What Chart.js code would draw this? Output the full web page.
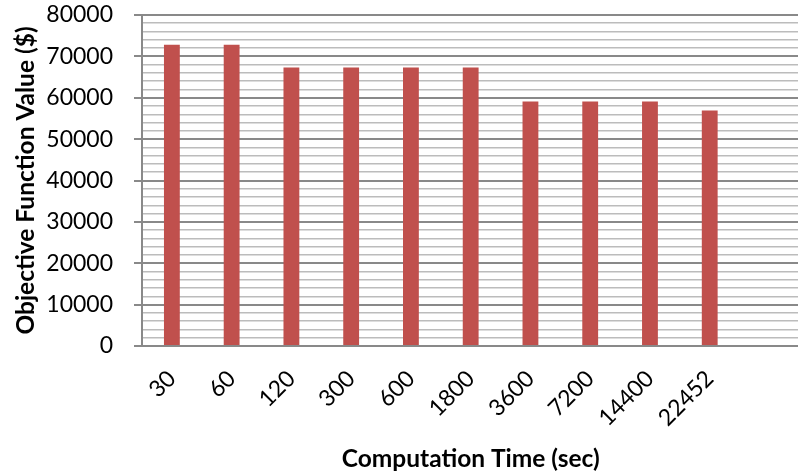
<!DOCTYPE html>
<html>
<head>
<meta charset="utf-8">
<script src="https://cdn.jsdelivr.net/npm/chart.js@4/dist/chart.umd.min.js"></script>
<style>
  html, body { margin: 0; padding: 0; background: #ffffff; overflow: hidden; }
  #wrap { width: 798px; height: 476px; overflow: hidden; }
  canvas { display: block; }
</style>
</head>
<body>
<div id="wrap"><canvas id="c" width="808" height="476"></canvas></div>
<script>
// Computation time limits (seconds) and the best objective value found for each
const categories = ['30', '60', '120', '300', '600', '1800', '3600', '7200', '14400', '22452'];
const objectiveValues = [72800, 72800, 67300, 67300, 67300, 67300, 59100, 59100, 59100, 56900];
const yTickLabels = [0, 10000, 20000, 30000, 40000, 50000, 60000, 70000, 80000];

const FONT = 'Lato, "Open Sans", "DejaVu Sans", sans-serif';
const MAJOR = '#898989';
const MINOR = '#bcbcbc';

// one spare empty slot after the last category keeps the axis running past the bars
const labels = categories.concat(['']);

new Chart(document.getElementById('c'), {
  type: 'bar',
  data: {
    labels: labels,
    datasets: [{
      label: 'Objective Function Value ($)',
      data: objectiveValues,
      backgroundColor: '#c0504d',
      borderWidth: 0,
      barPercentage: 0.265,
      categoryPercentage: 1.0
    }]
  },
  options: {
    responsive: false,
    animation: false,
    devicePixelRatio: 1,
    layout: { padding: { top: 15, right: 0, left: 0, bottom: 0 } },
    plugins: { legend: { display: false }, tooltip: { enabled: false } },
    scales: {
      x: {
        grid: { display: true, color: 'rgba(0,0,0,0)', drawTicks: false },
        border: { display: true, color: MAJOR, width: 2 },
        ticks: {
          autoSkip: false,
          minRotation: 45,
          maxRotation: 45,
          padding: 19,
          color: '#000000',
          font: { family: FONT, size: 23 }
        },
        title: {
          display: true,
          text: 'Computation Time (sec)',
          color: '#000000',
          font: { family: FONT, size: 24.5, weight: 'bold' },
          padding: { top: 0, bottom: 2 }
        },
        afterFit: s => { s.height = 130; s.paddingTop = 0; }
      },
      y: {
        min: 0,
        max: 80000,
        grid: {
          color: ctx => (ctx.tick && ctx.tick.value % 10000 === 0) ? MAJOR : MINOR,
          lineWidth: ctx => (ctx.tick && ctx.tick.value % 10000 === 0) ? 2 : 1.6,
          tickColor: ctx => (ctx.tick && ctx.tick.value % 10000 === 0) ? MAJOR : 'rgba(0,0,0,0)',
          tickLength: 8
        },
        border: { display: true, color: MAJOR, width: 2 },
        ticks: {
          stepSize: 2000,
          autoSkip: false,
          padding: 21,
          color: '#000000',
          font: { family: FONT, size: 23 },
          callback: v => yTickLabels.includes(v) ? String(v) : ''
        },
        title: {
          display: true,
          text: 'Objective Function Value ($)',
          color: '#000000',
          font: { family: FONT, size: 24.5, weight: 'bold' },
          padding: { top: 11, bottom: 0 }
        },
        afterFit: s => { s.width = 142; s.paddingTop = 0; s.paddingBottom = 0; }
      }
    }
  }
});
</script>
</body>
</html>
